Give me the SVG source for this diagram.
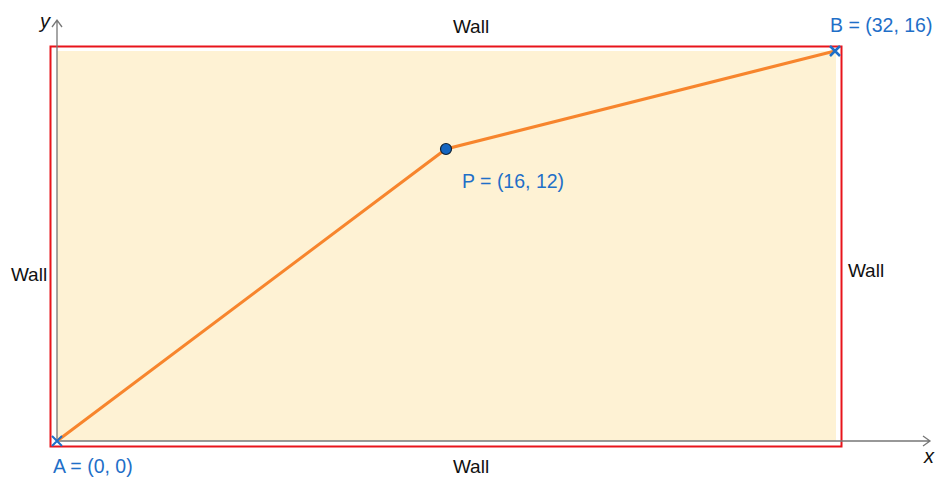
<svg xmlns="http://www.w3.org/2000/svg" width="941" height="480" viewBox="0 0 941 480">
<style>
.wall{font-family:"Liberation Sans",Arial,sans-serif;font-size:19px;fill:#111}
.lbl{font-family:"Liberation Sans",Arial,sans-serif;font-size:19.5px;fill:#1f6fc8}
.ax{font-family:"Liberation Sans",Arial,sans-serif;font-size:20px;font-style:italic;fill:#111}
.axis{stroke:#777;stroke-width:1.3;fill:none}
</style>
<rect width="941" height="480" fill="#fff"/>
<g id="region">
<rect x="57" y="51" width="779" height="390" fill="#fef2d4"/>
<rect x="50.5" y="46.5" width="791" height="400" fill="none" stroke="#e8141b" stroke-width="2"/>
</g>
<g id="axes">
<path class="axis" d="M57 441 V20 M52 27 L57 20 L62 27"/>
<path class="axis" d="M57 441 H930 M923 436 L930 441 L923 446"/>
<text class="ax" x="40" y="28">y</text>
<text class="ax" x="924" y="463">x</text>
</g>
<g id="connectors">
<polyline points="57,441 446,149 835,51" fill="none" stroke="#f7852d" stroke-width="3"/>
</g>
<g id="A">
<path d="M52 436 L62 446 M62 436 L52 446" stroke="#1f6fc8" stroke-width="2"/>
<text class="lbl" x="53" y="473">A = (0, 0)</text>
</g>
<g id="B">
<path d="M830 46 L840 56 M840 46 L830 56" stroke="#1f6fc8" stroke-width="2.5"/>
<text class="lbl" x="830" y="32">B = (32, 16)</text>
</g>
<g id="P">
<circle cx="446" cy="149" r="5.5" fill="#1565c0" stroke="#123" stroke-width="1.2"/>
<text class="lbl" x="462" y="188">P = (16, 12)</text>
</g>
<g id="walls">
<text class="wall" x="471" y="33" text-anchor="middle">Wall</text>
<text class="wall" x="471" y="473" text-anchor="middle">Wall</text>
<text class="wall" x="29" y="281" text-anchor="middle">Wall</text>
<text class="wall" x="866" y="277" text-anchor="middle">Wall</text>
</g>
</svg>
